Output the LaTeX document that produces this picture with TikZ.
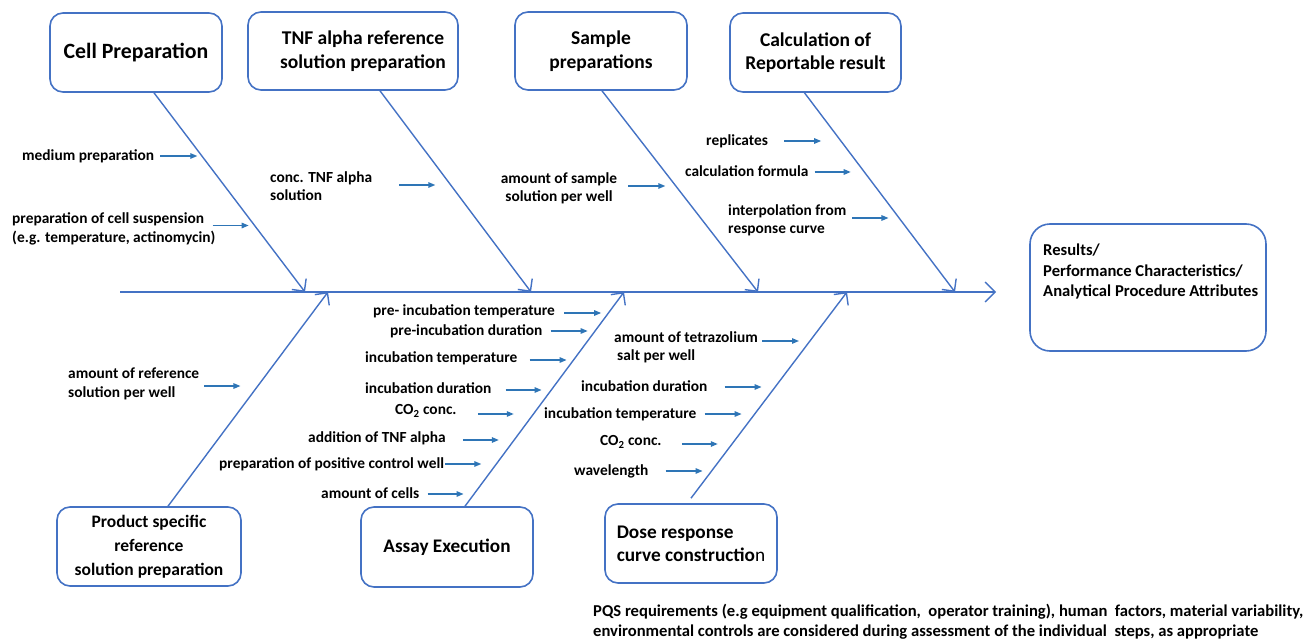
\documentclass[tikz,border=0pt]{standalone}
\usepackage{fontspec}
\setmainfont{Carlito}
\usepackage{tikz}
\usetikzlibrary{arrows.meta,positioning}

\definecolor{boxblue}{HTML}{4472C4}
\definecolor{arrblue}{HTML}{2E75B6}

\tikzset{
  catbox/.style={draw=boxblue, line width=1.6pt, rounded corners=13pt, align=center,
    inner sep=0pt, font=\bfseries\fontsize{19.5}{23.5}\selectfont},
  bone/.style={draw=boxblue, line width=1.4pt, -{Straight Barb[length=9pt,width=18pt,line width=1.4pt]}},
  cause/.style={draw=arrblue, line width=1.3pt, -{Triangle[length=7pt,width=5.5pt]}},
  lbl/.style={font=\bfseries\fontsize{15.4}{18.5}\selectfont, inner sep=0pt},
}

\begin{document}
\begin{tikzpicture}[x=1pt, y=-1pt]
  \useasboundingbox (0,0) rectangle (1305,639);

  % category boxes, top row
  \node[catbox, minimum width=172pt, minimum height=79pt, font=\bfseries\fontsize{21.8}{26}\selectfont] (cell) at (136,52.5) {Cell Preparation};
  \node[catbox, minimum width=210pt, minimum height=78pt] (tnf) at (353,51) {\hspace{20pt}TNF alpha reference\\\hspace{20pt}solution preparation};
  \node[catbox, minimum width=172pt, minimum height=78pt] (sample) at (601,51) {Sample\\preparations};
  \node[catbox, minimum width=171pt, minimum height=79pt] (calc) at (815.5,52.5) {Calculation of\\Reportable result};

  % category boxes, bottom row
  \node[catbox, minimum width=184pt, minimum height=79pt, font=\bfseries\fontsize{17.5}{24}\selectfont] (prod) at (149,546.5) {Product specific\\reference\\solution preparation};
  \node[catbox, minimum width=172pt, minimum height=80pt, font=\bfseries\fontsize{19.2}{24}\selectfont] (assay) at (447,547) {Assay Execution};
  \node[catbox, minimum width=172pt, minimum height=79pt, align=left, font=\fontsize{19.3}{23}\selectfont] (dose) at (691,543.5) {\textbf{Dose response}\\\textbf{curve constructio}n};

  % result box
  \node[catbox, minimum width=236pt, minimum height=127pt, rounded corners=20pt] (res) at (1148,287.5) {};
  \node[lbl, align=left, anchor=north west, font=\bfseries\fontsize{16.6}{20.5}\selectfont] (resTxt) at (1043,244) {Results/\\Performance Characteristics/\\Analytical Procedure Attributes};

  % spine and bones
  \coordinate (tail) at (120,292);
  \coordinate (jCell) at (305,292);
  \coordinate (jProd) at (328,292);
  \coordinate (jTnf) at (531,292);
  \coordinate (jAssay) at (624,292);
  \coordinate (jSample) at (758,292);
  \coordinate (jDose) at (847,292);
  \coordinate (jCalc) at (955,292);
  \draw[bone, -{Straight Barb[length=10pt,width=20pt,line width=1.4pt]}] (tail) -- ([xshift=-33pt]res.west |- tail);

  \draw[bone] ([xshift=18pt]cell.south) -- (jCell);
  \draw[bone] ([xshift=27pt]tnf.south) -- (jTnf);
  \draw[bone] ([xshift=1pt]sample.south) -- (jSample);
  \draw[bone] ([xshift=-11pt]calc.south) -- (jCalc);
  \draw[bone] ([xshift=19pt]prod.north) -- (jProd);
  \draw[bone] ([xshift=18pt]assay.north) -- (jAssay);
  \draw[bone] ([yshift=5pt]dose.north) -- (jDose);

  % causes, upper half
  \node[lbl, anchor=west] (medium) at (22,156) {medium preparation};
  \draw[cause] ([xshift=6pt]medium.east) -- ++(37,0);
  \node[lbl, anchor=west, align=left] (susp) at (12,229) {preparation of cell suspension\\(e.g. temperature, actinomycin)};
  \draw[cause] ([xshift=-3pt,yshift=3.5pt]susp.east) -- ++(36,0);
  \node[lbl, anchor=west, align=left] (concTnf) at (270,186) {conc. TNF alpha\\solution};
  \draw[cause] ([xshift=27pt,yshift=1pt]concTnf.east) -- ++(36,0);
  \node[lbl, align=center] (amtSample) at (559,188.5) {amount of sample\\solution per well};
  \draw[cause] ([xshift=11pt,yshift=2.5pt]amtSample.east) -- ++(37,0);
  \node[lbl, anchor=west] (repl) at (706,141) {replicates};
  \draw[cause] ([xshift=16pt]repl.east) -- ++(37,0);
  \node[lbl, anchor=west] (formula) at (685,171) {calculation formula};
  \draw[cause] ([xshift=6pt,yshift=-1pt]formula.east) -- ++(36,0);
  \node[lbl, anchor=west, align=left] (interp) at (728,220.5) {interpolation from\\response curve};
  \draw[cause] ([xshift=6pt,yshift=2.5pt]interp.east) -- ++(36,0);

  % causes, assay execution
  \node[lbl, anchor=west] (preTemp) at (373,311) {pre- incubation temperature};
  \draw[cause] ([xshift=9pt,yshift=-2pt]preTemp.east) -- ++(37,0);
  \node[lbl, anchor=west] (preDur) at (390,331) {pre-incubation duration};
  \draw[cause] ([xshift=8pt]preDur.east) -- ++(37,0);
  \node[lbl, anchor=west] (incTempA) at (365,358) {incubation temperature};
  \draw[cause] ([xshift=12pt,yshift=-2pt]incTempA.east) -- ++(37,0);
  \node[lbl, anchor=west] (incDurA) at (365,388) {incubation duration};
  \draw[cause] ([xshift=14pt,yshift=-2pt]incDurA.east) -- ++(36,0);
  \node[lbl, anchor=west] (coA) at (395,411) {CO\textsubscript{2} conc.};
  \draw[cause] ([xshift=21pt,yshift=-3pt]coA.east) -- ++(36,0);
  \node[lbl, anchor=west] (addTnf) at (308,438) {addition of TNF alpha};
  \draw[cause] ([xshift=17pt,yshift=-2pt]addTnf.east) -- ++(36,0);
  \node[lbl, anchor=west] (posCtrl) at (219,464) {preparation of positive control well};
  \draw[cause] ([xshift=1pt]posCtrl.east) -- ++(36,0);
  \node[lbl, anchor=west] (cells) at (321,493) {amount of cells};
  \draw[cause] ([xshift=8pt,yshift=-1pt]cells.east) -- ++(36,0);

  % causes, reference solution
  \node[lbl, anchor=west, align=left] (amtRef) at (68,384) {amount of reference\\solution per well};
  \draw[cause] ([xshift=5pt,yshift=-2pt]amtRef.east) -- ++(36,0);

  % causes, dose response
  \node[lbl, anchor=west, align=left] (tetra) at (614,347.5) {amount of tetrazolium\\\hspace{3pt}salt per well};
  \draw[cause] ([xshift=4pt,yshift=6.5pt]tetra.east) -- ++(37,0);
  \node[lbl, anchor=west] (incDurD) at (581,386) {incubation duration};
  \draw[cause] ([xshift=17pt,yshift=-1pt]incDurD.east) -- ++(37,0);
  \node[lbl, anchor=west] (incTempD) at (544,414) {incubation temperature};
  \draw[cause] ([xshift=8pt]incTempD.east) -- ++(37,0);
  \node[lbl, anchor=west] (coD) at (600,442) {CO\textsubscript{2} conc.};
  \draw[cause] ([xshift=20pt,yshift=-2pt]coD.east) -- ++(36,0);
  \node[lbl, anchor=west] (wave) at (574,471) {wavelength};
  \draw[cause] ([xshift=17pt]wave.east) -- ++(37,0);

  % footnote
  \node[lbl, anchor=west, align=left, font=\bfseries\fontsize{16.6}{19.5}\selectfont] (pqs) at (593,621.5) {PQS requirements (e.g equipment qualification,\ \ operator training), human\ \ factors, material variability,\\environmental controls are considered during assessment of the individual\ \ steps, as appropriate};
\end{tikzpicture}
\end{document}
